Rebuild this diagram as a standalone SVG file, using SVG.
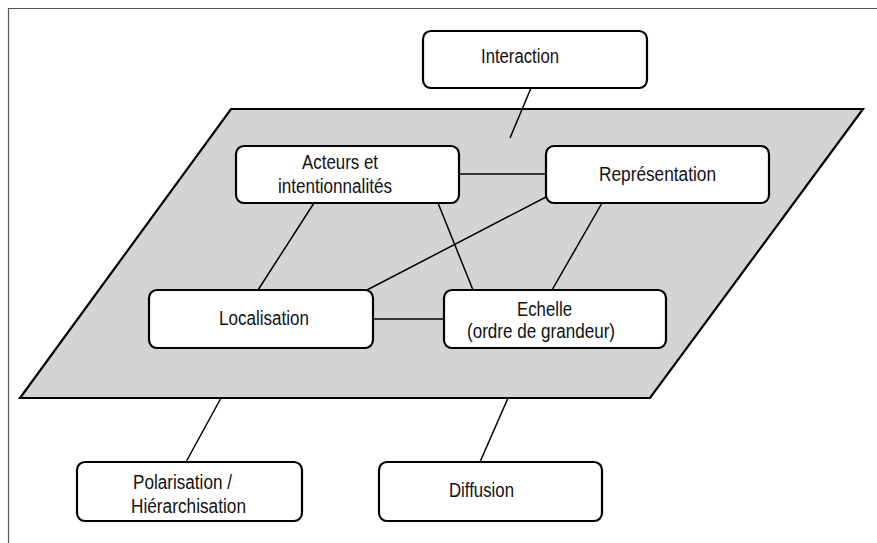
<svg xmlns="http://www.w3.org/2000/svg" width="877" height="543" viewBox="0 0 877 543">
<style>
.node rect{fill:#fff;stroke:#000;stroke-width:2.2}
.node text{font-family:"Liberation Sans",Arial,sans-serif;font-size:20px;fill:#111}
#connectors line{stroke:#000;stroke-width:1.5}
</style>
<rect width="877" height="543" fill="#fff"/>
<path d="M8.5 543V8.5H877" fill="none" stroke="#555" stroke-width="1.2"/>
<polygon id="plane" points="231,109 863,109 650,398 20,398" fill="#d3d4d3" stroke="#000" stroke-width="2.2"/>
<g id="connectors">
<line x1="531" y1="88" x2="510" y2="138"/>
<line x1="459" y1="174" x2="546" y2="174"/>
<line x1="314" y1="203" x2="258" y2="290"/>
<line x1="438" y1="203" x2="473" y2="290"/>
<line x1="546" y1="197" x2="367" y2="290"/>
<line x1="602" y1="203" x2="552" y2="290"/>
<line x1="373" y1="319" x2="444" y2="319"/>
<line x1="221" y1="398" x2="186" y2="462"/>
<line x1="508" y1="398" x2="480" y2="462"/>
</g>
<g id="interaction" class="node"><rect x="423" y="31" width="224" height="57" rx="8"/><text x="481" y="63" textLength="78" lengthAdjust="spacingAndGlyphs">Interaction</text></g>
<g id="acteurs" class="node"><rect x="236" y="146" width="223" height="57" rx="8"/><text x="302" y="169" textLength="76" lengthAdjust="spacingAndGlyphs">Acteurs et</text><text x="278" y="193" textLength="114" lengthAdjust="spacingAndGlyphs">intentionnalités</text></g>
<g id="representation" class="node"><rect x="546" y="146" width="223" height="57" rx="8"/><text x="599" y="181" textLength="117" lengthAdjust="spacingAndGlyphs">Représentation</text></g>
<g id="localisation" class="node"><rect x="149" y="290" width="224" height="58" rx="8"/><text x="219" y="325" textLength="90" lengthAdjust="spacingAndGlyphs">Localisation</text></g>
<g id="echelle" class="node"><rect x="444" y="290" width="222" height="58" rx="8"/><text x="517" y="316" textLength="55" lengthAdjust="spacingAndGlyphs">Echelle</text><text x="467" y="338" textLength="148" lengthAdjust="spacingAndGlyphs">(ordre de grandeur)</text></g>
<g id="polarisation" class="node"><rect x="77" y="462" width="225" height="59" rx="8"/><text x="133" y="489" textLength="99" lengthAdjust="spacingAndGlyphs">Polarisation /</text><text x="131" y="513" textLength="115" lengthAdjust="spacingAndGlyphs">Hiérarchisation</text></g>
<g id="diffusion" class="node"><rect x="379" y="462" width="223" height="59" rx="8"/><text x="449" y="497" textLength="65" lengthAdjust="spacingAndGlyphs">Diffusion</text></g>
</svg>
